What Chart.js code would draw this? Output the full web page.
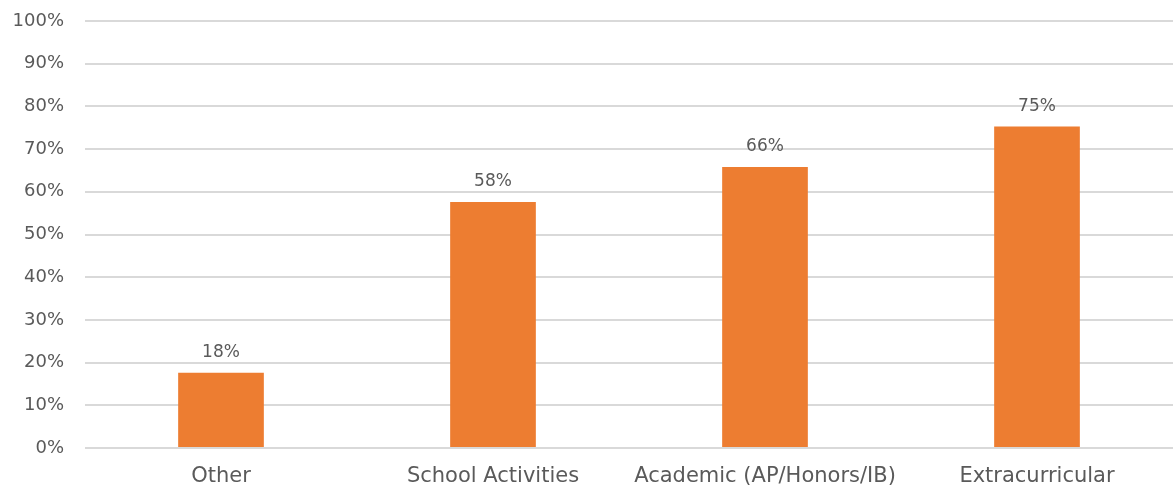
<!DOCTYPE html>
<html>
<head>
<meta charset="utf-8">
<script src="https://cdn.jsdelivr.net/npm/chart.js@4"></script>
<style>
  html, body { margin: 0; padding: 0; background: #fff; }
  #wrap { width: 1173px; height: 485px; }
</style>
</head>
<body>
<div id="wrap"><canvas id="c"></canvas></div>
<script>
  var categories = ["Other", "School Activities", "Academic (AP/Honors/IB)", "Extracurricular"];
  var shares = [17.6, 57.6, 65.8, 75.3];
  var yTicks = [0, 10, 20, 30, 40, 50, 60, 70, 80, 90, 100];

  var FONT = "'DejaVu Sans', sans-serif";
  var TEXT = "#5a5a5a";

  // value labels over bars
  var barLabels = {
    id: "barLabels",
    afterDatasetsDraw: function (chart) {
      var ctx = chart.ctx;
      var meta = chart.getDatasetMeta(0);
      ctx.save();
      ctx.fillStyle = TEXT;
      ctx.font = "17px " + FONT;
      ctx.textAlign = "center";
      ctx.textBaseline = "middle";
      meta.data.forEach(function (bar, i) {
        ctx.fillText(Math.round(shares[i]) + "%", bar.x, bar.y - 20);
      });
      ctx.restore();
    }
  };

  new Chart(document.getElementById("c").getContext("2d"), {
    type: "bar",
    data: {
      labels: categories,
      datasets: [{
        data: shares,
        backgroundColor: "#ED7D31",
        barPercentage: 0.63,
        categoryPercentage: 0.5
      }]
    },
    options: {
      responsive: true,
      maintainAspectRatio: false,
      animation: false,
      layout: { padding: { top: 21, right: 0, bottom: 0, left: 0 } },
      plugins: { legend: { display: false }, tooltip: { enabled: false } },
      scales: {
        x: {
          afterFit: function (axis) { axis.height = 37; },
          grid: { display: false },
          border: { display: false },
          ticks: { color: TEXT, font: { family: FONT, size: 21 }, padding: 8, maxRotation: 0 }
        },
        y: {
          min: 0,
          max: 100,
          afterBuildTicks: function (axis) {
            axis.ticks = yTicks.map(function (v) { return { value: v }; });
          },
          afterFit: function (axis) {
            axis.width = 85;
            axis.paddingTop = 0;
            axis.paddingBottom = 0;
          },
          grid: { color: "#d9d9d9", lineWidth: 2, drawTicks: false },
          border: { display: false },
          ticks: {
            color: TEXT,
            font: { family: FONT, size: 18 },
            padding: 21,
            callback: function (v) { return v + "%"; }
          }
        }
      }
    },
    plugins: [barLabels]
  });
</script>
</body>
</html>
